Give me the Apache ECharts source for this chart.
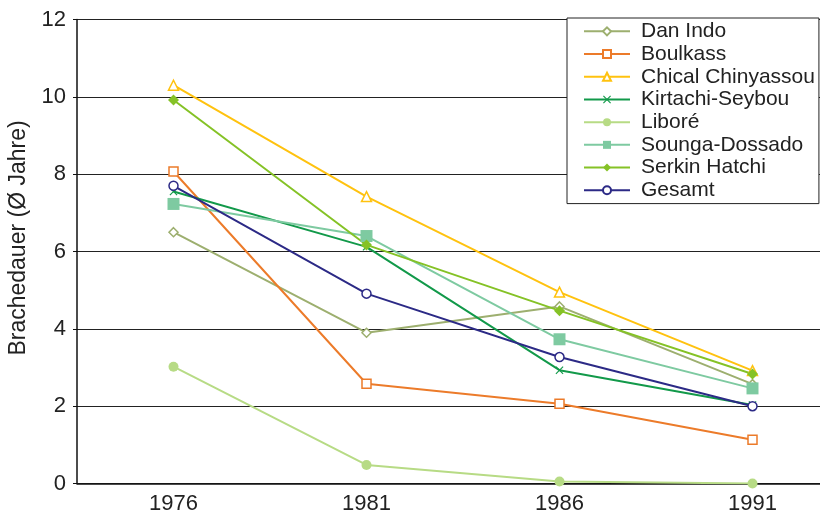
<!DOCTYPE html>
<html>
<head>
<meta charset="utf-8">
<script src="https://cdn.jsdelivr.net/npm/echarts@6/dist/echarts.min.js"></script>
<style>
  html, body { margin: 0; padding: 0; background: #fff; overflow: hidden; }
  #chart { width: 820px; height: 517px; }
</style>
</head>
<body>
<div id="chart"></div>
<script>
// Survey years
const years = ['1976', '1981', '1986', '1991'];

// Mean fallow duration (years) per village
const danIndo = [6.5, 3.9, 4.58, 2.57];
const boulkass = [8.07, 2.58, 2.06, 1.13];
const chicalChinyassou = [10.3, 7.42, 4.95, 2.92];
const kirtachiSeybou = [7.55, 6.12, 2.93, 2.03];
const libore = [3.02, 0.48, 0.05, 0.0];
const soungaDossado = [7.23, 6.4, 3.73, 2.46];
const serkinHatchi = [9.92, 6.17, 4.47, 2.83];
const gesamt = [7.7, 4.91, 3.27, 2.0];

// Y axis ticks
const yTicks = [0, 2, 4, 6, 8, 10, 12];

const crossPath = 'path://M0,1L1,0L5,4L9,0L10,1L6,5L10,9L9,10L5,6L1,10L0,9L4,5Z';

function line(name, data, color, symbol, size, hollow) {
  return {
    name: name,
    type: 'line',
    data: data,
    symbol: symbol,
    symbolSize: size,
    showAllSymbol: true,
    lineStyle: { color: color, width: 2 },
    itemStyle: hollow
      ? { color: '#fff', borderColor: color, borderWidth: 1.5 }
      : { color: color, borderColor: color, borderWidth: 0 },
    emphasis: { disabled: true },
    animation: false
  };
}

const chart = echarts.init(document.getElementById('chart'), null, { renderer: 'canvas' });
chart.setOption({
  backgroundColor: '#fff',
  animation: false,
  // plot area runs past the right edge of the canvas
  grid: { left: 77, top: 19.5, width: 772, height: 464, outerBoundsMode: 'none', containLabel: false },
  legend: {
    orient: 'vertical',
    left: 567,
    top: 18,
    padding: [2, 4, 2, 16],
    itemGap: 0,
    itemWidth: 46,
    itemHeight: 10,
    backgroundColor: '#fff',
    borderColor: '#222',
    borderWidth: 1,
    borderRadius: 0,
    textStyle: {
      fontFamily: 'Liberation Sans, Arial, sans-serif',
      fontSize: 21,
      color: '#222',
      lineHeight: 22.7,
      padding: [0, 0, 0, 6]
    },
    data: ['Dan Indo', 'Boulkass', 'Chical Chinyassou', 'Kirtachi-Seybou', 'Liboré',
           'Sounga-Dossado', 'Serkin Hatchi', 'Gesamt']
  },
  xAxis: {
    type: 'category',
    data: years,
    boundaryGap: true,
    axisLine: { lineStyle: { color: '#111', width: 1.5 } },
    axisTick: { alignWithLabel: true, length: 4, lineStyle: { color: '#111' } },
    axisLabel: {
      margin: 9,
      fontFamily: 'Liberation Sans, Arial, sans-serif',
      fontSize: 22,
      color: '#222'
    },
    splitLine: { show: false }
  },
  yAxis: {
    type: 'value',
    min: yTicks[0],
    max: yTicks[yTicks.length - 1],
    interval: 2,
    name: 'Brachedauer (Ø Jahre)',
    nameLocation: 'middle',
    nameGap: 41,
    nameTextStyle: {
      fontFamily: 'Liberation Sans, Arial, sans-serif',
      fontSize: 23,
      color: '#222',
      padding: [0, 0, 0, 27]
    },
    axisLine: { show: true, lineStyle: { color: '#111', width: 1.5 } },
    axisTick: { show: true, inside: false, length: 4, lineStyle: { color: '#111' } },
    axisLabel: {
      margin: 11,
      fontFamily: 'Liberation Sans, Arial, sans-serif',
      fontSize: 22,
      color: '#222'
    },
    splitLine: { show: true, lineStyle: { color: '#222', width: 1 } }
  },
  series: [
    line('Dan Indo', danIndo, '#9daf6f', 'diamond', 9, true),
    line('Boulkass', boulkass, '#ec7b2a', 'rect', 9, true),
    line('Chical Chinyassou', chicalChinyassou, '#ffc20f', 'triangle', 10, true),
    line('Kirtachi-Seybou', kirtachiSeybou, '#12994a', crossPath, 8, false),
    line('Liboré', libore, '#b7db85', 'circle', 10, false),
    line('Sounga-Dossado', soungaDossado, '#7ecaa1', 'rect', 12, false),
    line('Serkin Hatchi', serkinHatchi, '#85c226', 'diamond', 11, false),
    line('Gesamt', gesamt, '#2c2a86', 'circle', 9, true)
  ]
});
</script>
</body>
</html>
